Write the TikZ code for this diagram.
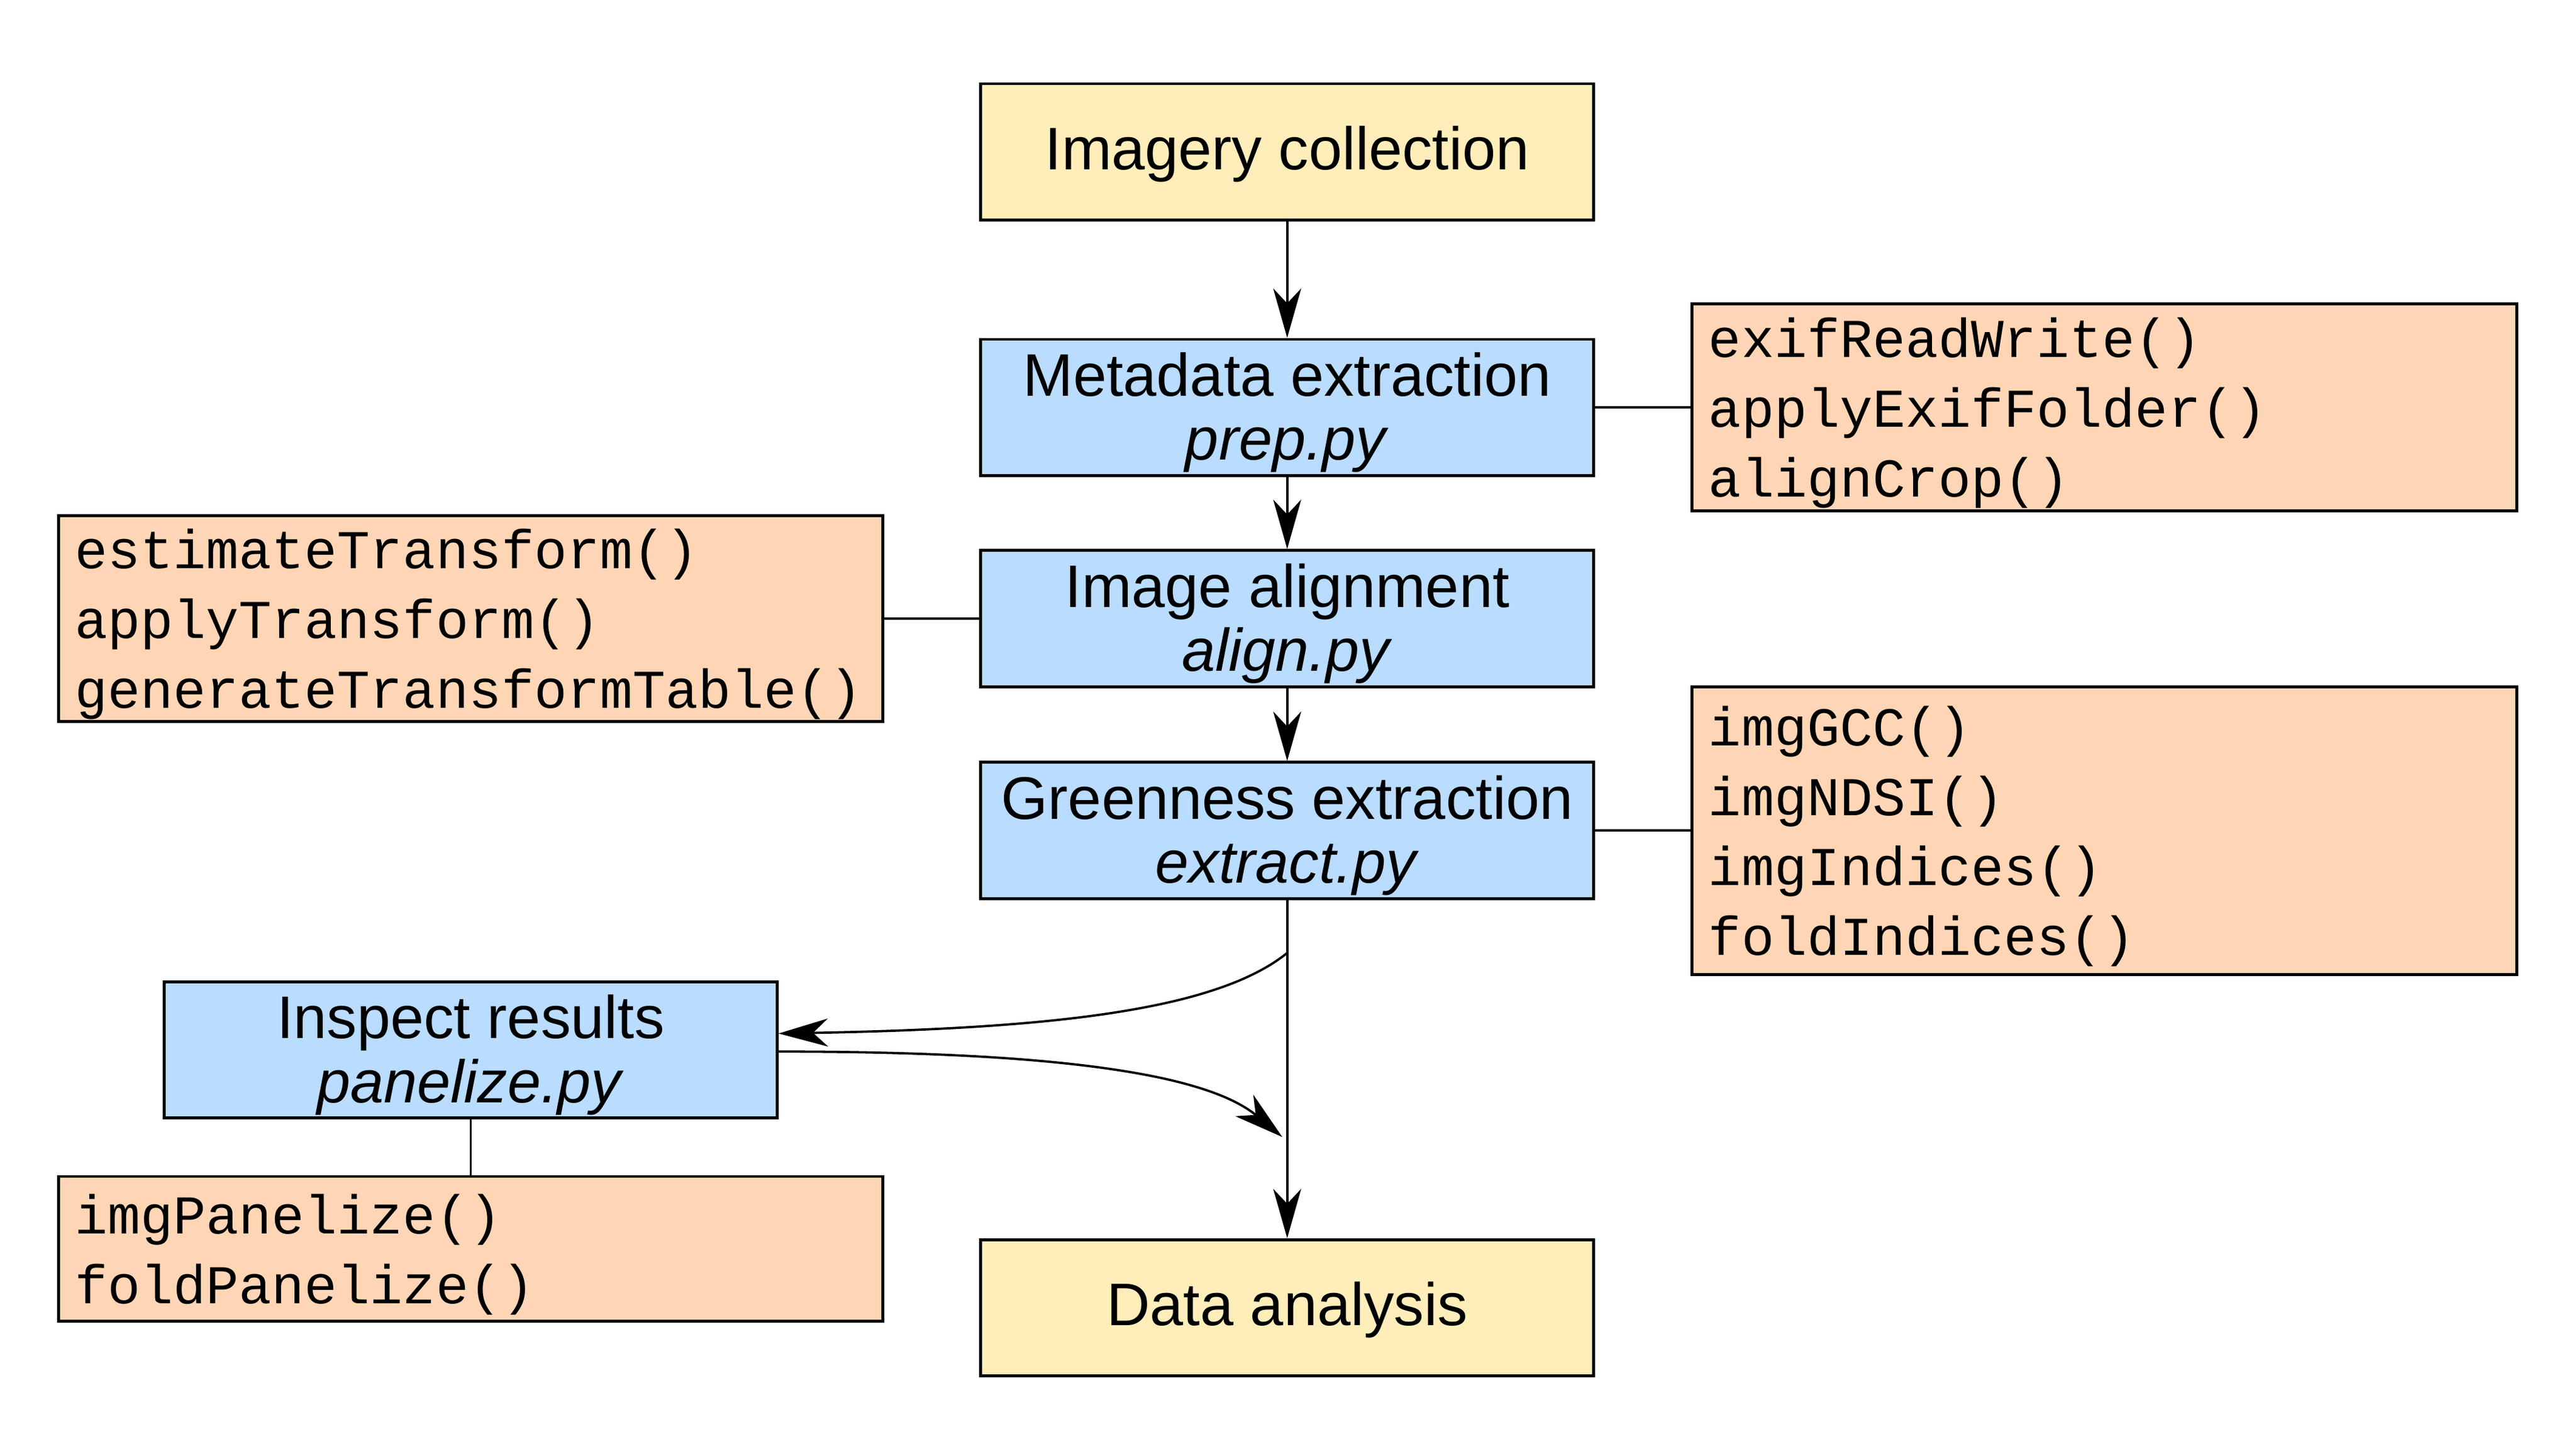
\documentclass[tikz,border=0pt]{standalone}
\usepackage{fontspec}
\setmainfont{Liberation Sans}
\newfontfamily\codefont{Liberation Mono}
\usetikzlibrary{arrows.meta}
\definecolor{boxyellow}{RGB}{255,237,186}
\definecolor{boxblue}{RGB}{185,220,255}
\definecolor{boxorange}{RGB}{255,214,181}
\newcommand\myliftA{\rule{0pt}{32.5pt}}
\newcommand\myliftB{\rule{0pt}{31pt}}
\newcommand\myliftC{\rule{0pt}{29pt}}
\begin{document}
\begin{tikzpicture}[x=1pt,y=-1pt,
  box/.style={draw, line width=1.8pt, minimum width=373pt, minimum height=83pt, inner sep=0pt, align=center, font=\fontsize{36.6}{39}\selectfont},
  yellowbox/.style={box, fill=boxyellow},
  bluebox/.style={box, fill=boxblue},
  codebox/.style={draw, line width=1.8pt, fill=boxorange, text width=482pt, inner xsep=10pt, inner ysep=0pt, align=left, font=\codefont\fontsize{33.3}{42.5}\selectfont},
  arr/.style={line width=1.4pt, -{Stealth[length=30pt,width=17pt,inset=9pt]}},
  link/.style={line width=1.4pt}]
\useasboundingbox (0,0) rectangle (1568,871.2);

\node[yellowbox] (collect) at (783.5,92.5) {\myliftC Imagery collection};
\node[bluebox] (meta) at (783.5,248) {\myliftA Metadata extraction\\\textit{prep.py}};
\node[bluebox] (align) at (783.5,376.5) {\myliftA Image alignment\\\textit{align.py}};
\node[bluebox] (green) at (783.5,505.5) {\myliftA Greenness extraction\\\textit{extract.py}};
\node[yellowbox] (data) at (783.5,796) {\myliftC Data analysis};
\node[bluebox] (inspect) at (286.5,639) {\myliftA Inspect results\\\textit{panelize.py}};

\node[codebox, minimum height=126pt] (c1) at (1281,248) {\myliftB exifReadWrite()\\applyExifFolder()\\alignCrop()};
\node[codebox, minimum height=125pt] (c2) at (286.5,376.5) {\myliftB estimateTransform()\\applyTransform()\\generateTransformTable()};
\node[codebox, minimum height=175pt] (c3) at (1281,505.5) {\myliftB imgGCC()\\imgNDSI()\\imgIndices()\\foldIndices()};
\node[codebox, minimum height=88pt] (c4) at (286.5,760) {\myliftB imgPanelize()\\foldPanelize()};

\coordinate (split) at (783.5,580);
\coordinate (merge) at (780.5,692);

\draw[arr] (collect) -- (meta);
\draw[arr] (meta) -- (align);
\draw[arr] (align) -- (green);
\draw[arr] (green) -- (data);

\draw[link] (meta.east) -- (c1.west);
\draw[link] (align.west) -- (c2.east);
\draw[link] (green.east) -- (c3.west);
\draw[link] (inspect.south) -- (c4.north);

\draw[arr] (split) .. controls (740,615) and (640,626) .. ([yshift=10pt]inspect.east);
\draw[arr] ([yshift=-1pt]inspect.east) .. controls (620,640) and (730,650) .. (merge);
\end{tikzpicture}
\end{document}
